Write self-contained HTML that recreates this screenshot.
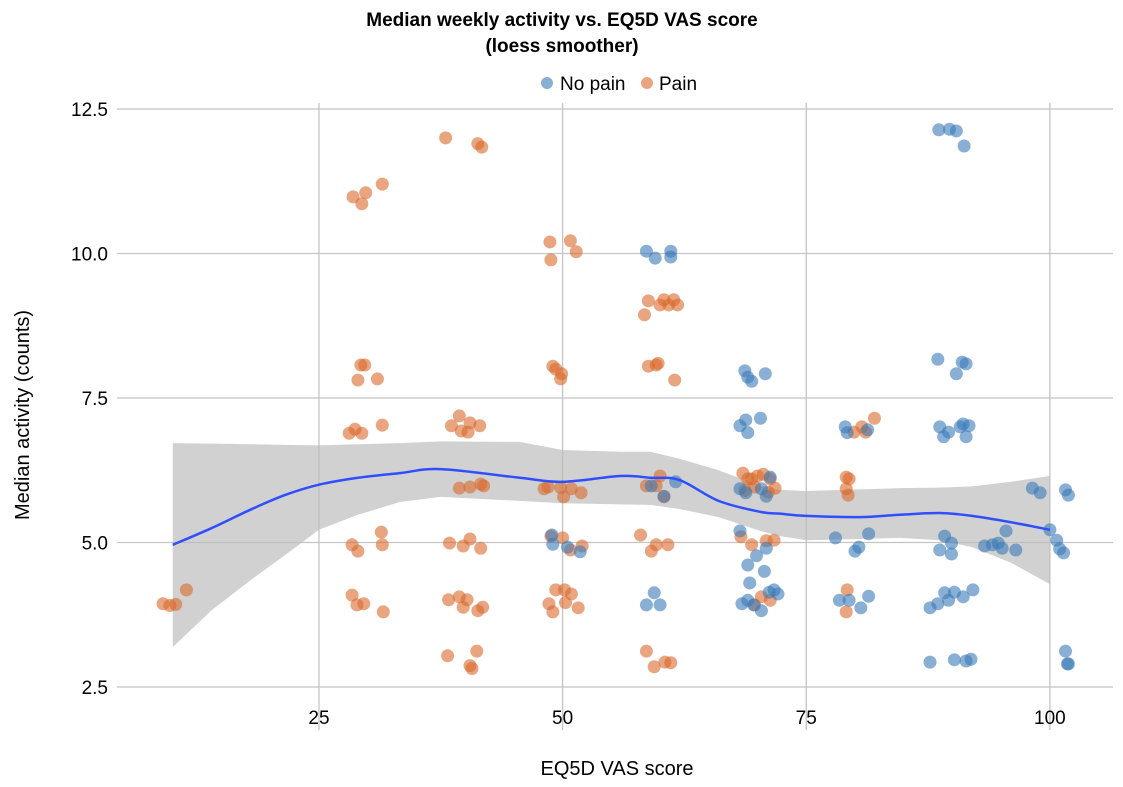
<!DOCTYPE html>
<html><head><meta charset="utf-8"><style>
html,body{margin:0;padding:0;background:#fff;}
svg{display:block;font-family:"Liberation Sans",Arial,sans-serif;}
</style></head><body>
<svg id="chart" width="1123" height="787" viewBox="0 0 1123 787" xmlns="http://www.w3.org/2000/svg">
<text x="562" y="26" text-anchor="middle" font-size="19" font-weight="bold">Median weekly activity vs. EQ5D VAS score</text>
<text x="562" y="52" text-anchor="middle" font-size="19" font-weight="bold">(loess smoother)</text>
<g>
<circle cx="547" cy="83" r="6" fill="#3a7ab8" fill-opacity="0.6"/>
<text x="560" y="90" font-size="19">No pain</text>
<circle cx="647" cy="83" r="6" fill="#d9692c" fill-opacity="0.6"/>
<text x="659" y="90" font-size="19">Pain</text>
</g>
<g id="grid"></g>
<g id="band"></g>
<g id="pts"></g>
<g id="line"></g>
<g id="axes"></g>
<text x="617" y="775" text-anchor="middle" font-size="20">EQ5D VAS score</text>
<text transform="translate(29,415) rotate(-90)" text-anchor="middle" font-size="20">Median activity (counts)</text>
</svg>
<script>
const xTicks=[25,50,75,100];
const yTicks=[2.5,5.0,7.5,10.0,12.5];
const yTickLabels=["2.5","5.0","7.5","10.0","12.5"];
const painX=[9.0,9.7,10.3,11.4,28.5,29.4,29.8,31.5,29.0,29.3,29.7,31.0,28.1,28.7,29.4,31.5,28.4,29.0,31.4,31.5,28.4,28.9,29.6,31.6,38.0,41.3,41.7,38.6,39.4,39.6,40.3,40.5,41.5,39.4,40.5,41.6,41.9,38.4,39.8,40.5,41.6,38.3,39.4,39.8,40.2,41.3,41.8,38.2,40.5,40.7,41.2,48.7,48.8,50.8,51.4,49.0,49.3,49.9,49.8,48.1,48.5,49.8,50.1,50.9,51.9,48.8,50.0,50.8,52.0,48.6,49.0,49.3,50.2,50.3,50.9,51.6,58.4,58.8,60.0,60.4,60.9,61.4,61.8,58.8,59.6,59.8,61.5,58.6,59.6,60.0,60.4,58.0,59.1,59.6,60.8,58.6,59.4,60.5,61.1,68.5,69.0,69.4,70.0,70.6,71.3,71.8,68.7,69.7,71.1,68.3,69.4,70.9,71.7,69.7,70.4,71.3,79.1,79.2,79.4,79.9,79.1,79.3,79.1,82.0,81.1,80.7];
const painY=[3.94,3.91,3.93,4.18,10.98,10.86,11.05,11.2,7.81,8.07,8.07,7.83,6.89,6.96,6.89,7.03,4.96,4.85,5.18,4.96,4.09,3.92,3.94,3.80,12.0,11.9,11.84,7.02,7.19,6.93,6.91,7.07,7.02,5.94,5.96,6.01,5.98,4.99,4.94,5.06,4.9,4.01,4.06,3.88,4.01,3.82,3.88,3.04,2.87,2.82,3.12,10.2,9.89,10.22,10.03,8.05,8.0,7.92,7.83,5.93,5.96,5.95,5.79,5.93,5.86,5.11,5.08,4.87,4.94,3.94,3.8,4.18,4.18,3.96,4.11,3.87,8.94,9.18,9.11,9.2,9.11,9.2,9.11,8.05,8.07,8.1,7.81,5.98,5.98,6.15,5.79,5.13,4.85,4.96,4.96,3.12,2.85,2.93,2.92,6.2,6.1,6.1,6.15,6.18,6.1,5.94,5.9,5.96,5.87,5.1,4.96,5.03,5.04,3.92,4.06,4.0,3.8,4.18,6.1,6.91,5.93,5.82,6.13,7.15,6.91,7.0];
const noPainX=[58.6,59.5,61.1,61.1,48.9,49.0,50.5,51.8,58.6,59.4,60.0,59.1,60.4,61.6,68.7,69.0,69.4,70.8,68.2,68.8,69.0,70.3,68.2,68.8,70.4,70.9,71.3,68.2,69.0,69.9,70.9,70.7,69.2,68.4,69.0,69.6,70.4,71.2,71.7,72.1,78.0,80.0,80.4,81.4,78.4,79.4,80.6,81.4,79.0,79.2,81.3,88.6,89.7,90.4,91.2,88.5,90.4,91.4,91.0,88.7,89.1,89.6,91.1,91.7,91.4,90.8,89.2,88.7,89.9,89.9,87.7,88.5,89.6,90.2,91.1,92.1,89.2,87.7,90.2,91.4,91.9,93.3,94.1,95.1,95.5,96.5,94.7,98.2,99.0,100.0,100.7,101.0,101.4,101.6,101.9,101.6,101.8,101.9];
const noPainY=[10.04,9.92,10.04,9.94,5.13,4.97,4.92,4.84,3.92,4.13,3.92,5.98,5.8,6.05,7.97,7.86,7.79,7.92,7.02,7.12,6.9,7.15,5.93,5.86,5.93,5.8,6.13,5.2,4.61,4.77,4.9,4.5,4.3,3.94,4.0,3.92,3.82,4.14,4.18,4.11,5.08,4.85,4.92,5.15,4.0,4.0,3.87,4.07,7.0,6.9,6.95,12.14,12.15,12.12,11.86,8.17,7.92,8.09,8.12,7.0,6.83,6.91,7.05,7.02,6.83,7.0,5.11,4.87,4.99,4.8,3.87,3.94,4.0,4.14,4.06,4.18,4.13,2.93,2.97,2.95,2.98,4.94,4.96,4.9,5.2,4.87,4.99,5.94,5.86,5.22,5.04,4.89,4.82,5.91,5.82,3.12,2.9,2.9];
const fitX=[10,14,18,21.5,25,29,33.3,37.5,45.6,50,55.9,59,62,66,70.3,72.3,75,80.5,84.6,88.7,92,96,100];
const fitY=[4.96,5.25,5.57,5.82,6.0,6.12,6.2,6.27,6.12,6.05,6.15,6.12,6.08,5.72,5.53,5.5,5.46,5.44,5.48,5.51,5.46,5.35,5.22];
const fitHi=[6.72,6.71,6.7,6.69,6.68,6.7,6.72,6.75,6.74,6.6,6.57,6.57,6.45,6.25,5.98,5.91,5.89,5.92,5.94,5.95,5.97,6.05,6.15];
const fitLo=[3.19,3.83,4.35,4.78,5.22,5.48,5.7,5.79,5.72,5.68,5.66,5.65,5.58,5.44,5.2,5.11,5.04,5.06,5.08,5.04,4.92,4.65,4.28];

const X=v=>75.3+v*9.746;
const Y=v=>109+(12.5-v)*57.8;
const NS="http://www.w3.org/2000/svg";
function mk(t,a,p){const e=document.createElementNS(NS,t);for(const k in a)e.setAttribute(k,a[k]);p.appendChild(e);return e;}
const grid=document.getElementById('grid'),axes=document.getElementById('axes');
yTicks.forEach((v,i)=>{
 const l=mk('line',{x1:117,x2:1113,y1:Y(v),y2:Y(v),stroke:'#c4c4c4','stroke-width':1.3},grid);
 
 
 const t=mk('text',{x:108,y:Y(v)+7,'text-anchor':'end','font-size':19},axes);
 t.textContent=yTickLabels[i];
 
 
});
xTicks.forEach(v=>{
 const l=mk('line',{x1:X(v),x2:X(v),y1:103,y2:730,stroke:'#c4c4c4','stroke-width':1.3},grid);
 
 
 const t=mk('text',{x:X(v),y:724,'text-anchor':'middle','font-size':19},axes);
 t.textContent=String(v);
 
 
});
let d='M'+fitX.map((x,i)=>X(x)+','+Y(fitHi[i])).join('L');
for(let i=fitX.length-1;i>=0;i--)d+='L'+X(fitX[i])+','+Y(fitLo[i]);
const b=mk('path',{d:d+'Z',fill:'#bdbdbd','fill-opacity':0.7},document.getElementById('band'));


const pts=document.getElementById('pts');
painX.forEach((x,i)=>{const c=mk('circle',{cx:X(x),cy:Y(painY[i]),r:6.5,fill:'#d9692c','fill-opacity':0.6},pts);
 
 });
noPainX.forEach((x,i)=>{const c=mk('circle',{cx:X(x),cy:Y(noPainY[i]),r:6.5,fill:'#3a7ab8','fill-opacity':0.6},pts);
 
 });
const P=fitX.map((x,i)=>[X(x),Y(fitY[i])]);
let ld='M'+P[0].join(',');
for(let i=0;i<P.length-1;i++){const p0=P[Math.max(0,i-1)],p1=P[i],p2=P[i+1],p3=P[Math.min(P.length-1,i+2)];
 ld+='C'+(p1[0]+(p2[0]-p0[0])/6)+','+(p1[1]+(p2[1]-p0[1])/6)+' '+(p2[0]-(p3[0]-p1[0])/6)+','+(p2[1]-(p3[1]-p1[1])/6)+' '+p2[0]+','+p2[1];}
const ln=mk('path',{d:ld,fill:'none',stroke:'#2f4fff','stroke-width':2.5},document.getElementById('line'));


</script>
</body></html>
